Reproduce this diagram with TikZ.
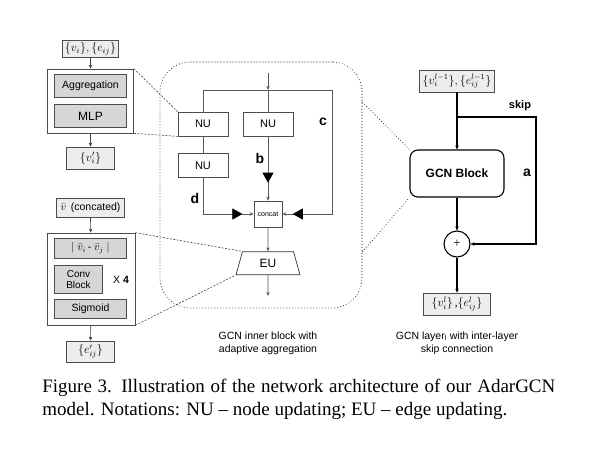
\documentclass[tikz,border=0pt]{standalone}
\usepackage{fontspec}
\setmainfont{Liberation Serif}
\setsansfont{Liberation Sans}
\usetikzlibrary{arrows.meta,positioning,shapes.geometric,calc}
\usetikzlibrary{decorations.markings}
\tikzset{->-/.style={decoration={
  markings,
  mark= at position #1 with {\arrow{Triangle[length=10pt,width=11pt,color=black]}}},postaction={decorate}}
}

\begin{document}
\begin{tikzpicture}[
    x=1pt,
    y=-1pt,
    >={Stealth[length=4pt,width=3.5pt]},
    line width=0.7pt,
    io node/.style={rectangle,draw=black!70,fill=black!7,inner sep=0pt,minimum height=20pt,font=\fontsize{11.5}{12}\selectfont},
    block node/.style={rectangle,draw=black!70,fill=white,inner sep=0pt},
    layer node/.style={rectangle,draw=black!70,fill=black!16,inner sep=0pt,minimum width=72pt,font=\sffamily\fontsize{10.5}{12}\selectfont},
    update node/.style={rectangle,draw=black!70,fill=white,inner sep=0pt,minimum width=50pt,minimum height=24pt,font=\sffamily\fontsize{11}{12}\selectfont},
    branch label/.style={font=\sffamily\bfseries\fontsize{14}{16}\selectfont},
    note/.style={align=center,font=\sffamily\fontsize{10.5}{13}\selectfont},
    zoom link/.style={draw=black!75,line width=0.6pt,dash pattern=on 2pt off 1.5pt},
    frame link/.style={draw=black!80,line width=1.1pt,line cap=round,dash pattern=on 0pt off 3pt}]

  \useasboundingbox (0,0) rectangle (603,448);

  % inner block frame
  \node[frame link,rounded corners=30pt,minimum width=202pt,minimum height=246pt] (Inner) at (261,185) {};

  % node updating
  \node[io node,minimum width=56pt,minimum height=17pt] (Input) at (90.5,48.5) {$\{v_i\},\{e_{ij}\}$};
  \node[block node,minimum width=86pt,minimum height=64pt] (NodeBlock) at (90.5,101) {};
  \node[layer node,minimum height=23pt] (Aggregation) at (90.5,85.5) {Aggregation};
  \node[layer node,minimum height=23pt,font=\sffamily\fontsize{12}{14}\selectfont] (MLP) [below=7pt of Aggregation] {MLP};
  \node[io node,minimum width=48pt,minimum height=22pt] (NodeOut) at (90.5,158) {$\{v_i'\}$};

  % edge updating
  \node[io node,minimum width=68pt,minimum height=19pt,font=\sffamily\fontsize{10.5}{12}\selectfont] (Concated) at (90.5,207.5) {$\bar{v}$\, (concated)};
  \node[block node,minimum width=88pt,minimum height=92pt] (EdgeBlock) at (91,279) {};
  \node[layer node,minimum height=20pt] (Diff) at (90.5,248) {$|\ \bar{v}_i\,$- $\bar{v}_j\ |$};
  \node[layer node,minimum width=48pt,minimum height=28pt,align=center,font=\sffamily\fontsize{10}{11.5}\selectfont] (ConvBlock) [below=7pt of Diff.south west,anchor=north west] {Conv\\Block};
  \node[font=\sffamily\fontsize{10.5}{12}\selectfont] (Times4) at (121,280) {X \textbf{4}};
  \node[layer node,minimum height=19pt] (Sigmoid) [below=5pt of ConvBlock.south west,anchor=north west] {Sigmoid};
  \node[io node,minimum width=48pt,minimum height=21pt] (EdgeOut) at (90.5,351.5) {$\{e_{ij}'\}$};

  \begin{scope}[color=black!75]
  \draw[->] (Input) -- (NodeBlock);
  \draw[->] (NodeBlock) -- (NodeOut);
  \draw[->] (Concated) -- (EdgeBlock);
  \draw[->] (EdgeBlock) -- (EdgeOut);
  \end{scope}

  % inner block
  \coordinate (Top) at (268,73);
  \coordinate (Split) at (268,90);
  \coordinate (CBend) at (332,90);
  \coordinate (Out) at (268,296);
  \node[update node] (NU1) at (203,124) {NU};
  \node[update node] (NU2) at (268,124) {NU};
  \node[update node] (NU3) [below=17pt of NU1] {NU};
  \node[block node,minimum width=28pt,minimum height=26pt,font=\sffamily\fontsize{7}{8}\selectfont] (Concat) at (268,214) {concat};
  \node[trapezium,draw=black!80,fill=white,trapezium angle=76,trapezium stretches=true,minimum width=64pt,minimum height=23pt,inner sep=0pt,font=\sffamily\fontsize{12}{14}\selectfont] (EU) [below=24pt of Concat] {EU};

  \begin{scope}[color=black!65]
  \draw[->] (Top) -- (Split);
  \draw (NU1) |- (CBend);
  \draw (Split) -- (NU2);
  \draw (NU1) -- (NU3);
  \draw[->-=.72,->] (NU2) -- (Concat);
  \draw[->-=.87,->] (NU3) |- (Concat);
  \draw[->-=.94,->] (CBend) |- (Concat);
  \draw[->] (Concat) -- (EU);
  \draw[->] (EU) -- (Out);
  \end{scope}

  \node[branch label] (LabelB) at (260,158) {b};
  \node[branch label] (LabelC) at (323,122) {c};
  \node[branch label] (LabelD) at (195,198) {d};
  \node[note] (InnerNote) at (268,343) {GCN inner block with\\adaptive aggregation};

  % gcn layer with skip
  \node[io node,minimum width=75pt,minimum height=22pt] (LayerIn) at (457,81) {$\{v_i^{l-1}\},\{e_{ij}^{l-1}\}$};
  \node[rectangle,draw,line width=1.1pt,rounded corners=8pt,minimum width=94pt,minimum height=47pt,font=\sffamily\bfseries\fontsize{12}{14}\selectfont] (GCN) at (457,173.5) {GCN Block};
  \node[circle,draw,line width=1.1pt,minimum size=26pt,inner sep=0pt,font=\fontsize{13}{14}\selectfont] (Plus) at (457,244) {+};
  \node[io node,minimum width=67pt,minimum height=22pt] (LayerOut) at (457,304) {$\{v_i^l\}$\,,$\{e_{ij}^l\}$};
  \coordinate (Skip) at (457,117);
  \coordinate (SkipBend) at (536,117);

  \draw[line width=1.1pt,->] (LayerIn) -- (GCN);
  \draw[line width=1.1pt,->] (Skip) -- (SkipBend) |- (Plus);
  \draw[line width=1.1pt,->] (GCN) -- (Plus);
  \draw[line width=1.1pt,->] (Plus) -- (LayerOut);

  \node[font=\sffamily\bfseries\fontsize{11}{13}\selectfont] (LabelSkip) at (520,106) {skip};
  \node[branch label] (LabelA) at (527,173) {a};
  \node[note] (LayerNote) at (457,343) {GCN layer\textsubscript{l} with inter-layer\\skip connection};

  % zoom links
  \draw[zoom link] (NodeBlock.north east) -- (NU1.north west);
  \draw[zoom link] (NodeBlock.south east) -- (NU1.south west);
  \draw[zoom link] (EdgeBlock.north east) -- (EU.top left corner);
  \draw[zoom link] (EdgeBlock.south east) -- (EU.bottom left corner);
  \draw[frame link] ($(Inner.north east)!.165!(Inner.south east)$) -- (GCN.north west);
  \draw[frame link] ($(Inner.north east)!.77!(Inner.south east)$) -- (GCN.south west);

  % figure caption
  \node[anchor=base west,inner sep=0pt,font=\fontsize{19}{23}\selectfont] (Caption) at (42,392) {\makebox[513pt][s]{Figure 3. Illustration of the network architecture of our AdarGCN}};
  \node[anchor=base west,inner sep=0pt,font=\fontsize{19}{23}\selectfont] (CaptionEnd) at (42,415) {model. Notations: NU -- node updating; EU -- edge updating.};
\end{tikzpicture}
\end{document}
